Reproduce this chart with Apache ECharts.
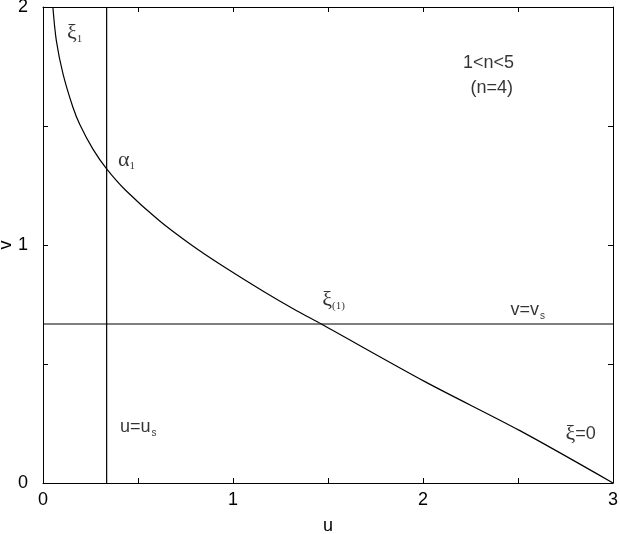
<!DOCTYPE html>
<html>
<head>
<meta charset="utf-8">
<script src="https://cdn.jsdelivr.net/npm/echarts@6/dist/echarts.min.js"></script>
<style>
  html, body { margin: 0; padding: 0; background: #fff; }
  #chart { width: 620px; height: 534px; }
</style>
</head>
<body>
<div id="chart"></div>
<script>
// curve xi(u)
var uVals = [0.052, 0.07, 0.105, 0.157, 0.195, 0.262, 0.335, 0.436, 0.611, 0.785, 0.942, 1.159, 1.335, 1.467, 2.01, 2.51, 3.0];
var vVals = [2.0, 1.86, 1.72, 1.58, 1.504, 1.404, 1.32, 1.229, 1.103, 0.998, 0.914, 0.806, 0.724, 0.667, 0.426, 0.22, 0];
// sonic lines
var uS = 0.335;
var vS = 0.668;
// axis ranges / ticks
var xRange = [0, 3];
var yRange = [0, 2];
var tickStep = 0.5;
// annotations: [u, v, text]
var notes = [
  [0.126, 1.89, "{g|ξ}{s|1}"],
  [0.395, 1.357, "{g|α}{s|1}"],
  [1.47, 0.77, "{g|ξ}{s|(1)}"],
  [2.46, 0.727, "{t|v=v}{ss|s}"],
  [0.405, 0.235, "{t|u=u}{ss|s}"],
  [2.75, 0.206, "{g|ξ}{t|=0}"],
  [2.21, 1.765, "{t|1<n<5}"],
  [2.25, 1.66, "{t|(n=4)}"]
];

var chart = echarts.init(document.getElementById("chart"));

var curve = uVals.map(function (u, i) { return [u, vVals[i]]; });

var axisCommon = {
  type: "value",
  interval: tickStep,
  axisLine: { show: true, onZero: false, lineStyle: { color: "#000", width: 1 } },
  axisTick: { show: true, inside: true, length: 5, lineStyle: { color: "#000" } },
  splitLine: { show: false }
};

var labelStyle = {
  fontFamily: "Liberation Sans, Arial, sans-serif",
  fontSize: 18,
  color: "#000"
};

function intOnly(val) {
  return Math.abs(val - Math.round(val)) < 1e-6 ? String(Math.round(val)) : "";
}

var option = {
  animation: false,
  backgroundColor: "#fff",
  grid: { left: 43, right: 7, top: 7, bottom: 51, containLabel: false, outerBoundsMode: "none" },
  xAxis: [
    Object.assign({}, axisCommon, {
      min: xRange[0], max: xRange[1], position: "bottom",
      name: "u", nameLocation: "middle", nameGap: 34, nameMoveOverlap: false,
      nameTextStyle: labelStyle,
      axisLabel: Object.assign({ formatter: intOnly, margin: 8 }, labelStyle)
    }),
    Object.assign({}, axisCommon, {
      min: xRange[0], max: xRange[1], position: "top",
      axisLabel: { show: false }
    })
  ],
  yAxis: [
    Object.assign({}, axisCommon, {
      min: yRange[0], max: yRange[1], position: "left",
      name: "v", nameLocation: "middle", nameGap: 28, nameMoveOverlap: false,
      nameTextStyle: labelStyle,
      axisLabel: Object.assign({ formatter: intOnly, margin: 15 }, labelStyle)
    }),
    Object.assign({}, axisCommon, {
      min: yRange[0], max: yRange[1], position: "right",
      axisLabel: { show: false }
    })
  ],
  series: [
    {
      type: "line",
      data: curve,
      smooth: 0.3,
      symbol: "none",
      lineStyle: { color: "#000", width: 1.2 }
    },
    {
      type: "line",
      data: [[uS, yRange[0]], [uS, yRange[1]]],
      symbol: "none",
      lineStyle: { color: "#000", width: 1.2 }
    },
    {
      type: "line",
      data: [[xRange[0], vS], [xRange[1], vS]],
      symbol: "none",
      lineStyle: { color: "#000", width: 1.2 }
    },
    {
      type: "scatter",
      symbolSize: 0,
      data: notes.map(function (n) { return { value: [n[0], n[1]], text: n[2] }; }),
      label: {
        show: true,
        position: [0, 0],
        align: "left",
        verticalAlign: "middle",
        color: "#000",
        textBorderWidth: 0,
        formatter: function (p) { return p.data.text; },
        rich: {
          g: { fontFamily: "Liberation Serif, Times New Roman, serif", fontSize: 22, color: "#000" },
          s: { fontFamily: "Liberation Serif, Times New Roman, serif", fontSize: 11, color: "#000", padding: [12, 0, 0, 0] },
          t: { fontFamily: "Liberation Sans, Arial, sans-serif", fontSize: 18, color: "#000" },
          ss: { fontFamily: "Liberation Sans, Arial, sans-serif", fontSize: 10, color: "#000", padding: [12, 0, 0, 1] }
        }
      }
    }
  ]
};

chart.setOption(option);
</script>
</body>
</html>
